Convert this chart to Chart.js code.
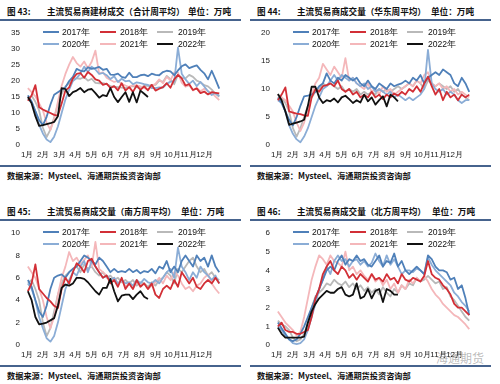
<!DOCTYPE html>
<html>
<head>
<meta charset="utf-8">
<script src="https://cdn.jsdelivr.net/npm/chart.js@4.4.1/dist/chart.umd.min.js"></script>
<style>
  body { margin: 0; width: 500px; height: 384px; overflow: hidden; position: relative; background: #fff;
         font-family: "Noto Sans CJK SC", sans-serif; }
  .panel { position: absolute; width: 250px; height: 192px; }
  .head { position: absolute; top: 5px; font-size: 8.6px; font-weight: bold; color: #111; white-space: nowrap; line-height: 12px; }
  .rule { position: absolute; left: 0; width: 241px; height: 2px; background: #46638d; }
  .src { position: absolute; left: 7px; top: 169px; font-size: 8.2px; font-weight: bold; color: #111; white-space: nowrap; line-height: 12px; }
  .lline { position: absolute; width: 16px; height: 2px; }
  .ltext { position: absolute; font-family: "Liberation Sans", Arial, sans-serif; font-size: 8.6px; color: #111; line-height: 10px; white-space: nowrap; }
  canvas { position: absolute; left: 0; top: 22px; }
  .wm { position: absolute; left: 436px; top: 349px; font-size: 12px; color: rgba(130,130,130,0.55); white-space: nowrap; }
</style>
</head>
<body>
<div class="wm">海通期货</div>
<script>
const monthLabels = ['1月', '2月', '3月', '4月', '5月', '6月', '7月', '8月', '9月', '10月', '11月', '12月']
const yearLabels = ['2017年', '2018年', '2019年', '2020年', '2021年', '2022年']
const yearColors = ['#4f80b9', '#d22f36', '#b9b9b9', '#8badd6', '#f4b7ba', '#111111']

// 合计 (weekly, 万吨)
const total17 = [15.5, 13.6, 10.6, 7.8, 6.2, 8.8, 12.6, 15.7, 16.5, 17.3, 18, 20, 21.3, 23.8, 23.2, 23, 24.3, 23.8, 24, 24.4, 23.5, 23.8, 22, 21.9, 22.3, 21.3, 21, 22.6, 21.2, 21.2, 21.8, 22, 21.5, 22.3, 21.9, 21.8, 22.8, 23.2, 23, 21.8, 23.3, 24.6, 25.2, 24, 24.5, 24.9, 23.5, 22.4, 20.5, 23.2, 20.5, 17.6]
const total18 = [13.8, 15.5, 18.7, 11.8, 11.1, 10.5, 10, 9.4, 9.2, 13, 17, 18, 20.8, 22.2, 22.5, 21, 22.8, 21.9, 20.5, 20.1, 18.8, 19.2, 17.8, 18.4, 17.1, 19.3, 17, 18.1, 16.6, 18.6, 17.2, 18.3, 17.1, 18.8, 17, 17.6, 18.1, 19.3, 17.9, 20.5, 21.9, 20.8, 18.6, 19, 17.2, 17.7, 16.2, 16.7, 15.8, 16.5, 16.3, 16.1]
const total19 = [14.8, 15.4, 13.5, 10.8, 5.4, 2.5, 4.8, 8.6, 12.7, 16, 18.3, 19.3, 20.8, 20.8, 20.7, 21.2, 20.1, 20.7, 19.4, 19.3, 19.3, 19, 18.4, 18.2, 18.1, 17.9, 17.8, 18.2, 18.4, 18.1, 17.7, 18.5, 18.5, 18.8, 18.8, 20.1, 19.7, 21.6, 20.6, 19, 22, 21, 20.8, 21.9, 21.3, 20.1, 19.6, 18.7, 18.3, 17.3, 16, 15.1]
const total20 = [14.5, 13.3, 10.5, 6.3, 3.6, 1.7, 0.9, 2.6, 5.8, 10, 14.2, 17.3, 20, 20.9, 22.3, 24.5, 22.8, 24.5, 23.6, 22.2, 22.5, 21.8, 20.6, 21.5, 19.7, 20.7, 19.9, 20.1, 19, 19.6, 19.3, 19, 18.8, 17.8, 17.8, 18, 17.9, 19.1, 19.8, 19.8, 30.4, 22.3, 20.5, 19.1, 20.1, 18.4, 19.7, 18.3, 16.8, 15.6, 16.3, 15.3]
const total21 = [17.8, 16.5, 15.2, 13, 10.8, 7, 4.7, 8, 13.5, 18.5, 22.2, 25.1, 27.5, 25.6, 24.5, 26.1, 24, 26, 29.5, 22.3, 22.7, 21, 20.3, 19.7, 20, 19.1, 18.6, 18.1, 18.7, 18.6, 18.3, 17.8, 17.3, 18.5, 19.1, 20.5, 19.3, 21.3, 20.2, 22.7, 22.6, 19.5, 18.2, 18.7, 17, 17.8, 16.8, 17.6, 16.8, 16.3, 15.1, 14]
const total22 = [15, 13, 9, 6, 6.2, 6.5, 6.8, 7.2, 9, 17.8, 17.5, 15.3, 16.5, 17, 17.8, 16.5, 17.3, 17.5, 16.2, 14.8, 15.6, 15.3, 17.8, 15, 13.4, 15, 16.5, 13.5, 16.5, 13.3, 17, 16, 15]

// 华东
const east17 = [8.5, 7.5, 6, 4.5, 3.5, 5, 7, 8.7, 8.8, 9, 9.5, 10.5, 11, 12.8, 11.5, 11, 12, 11.5, 12.5, 12, 11.5, 12, 11, 10.5, 11.5, 10.5, 10, 11, 10.5, 10, 11, 10.5, 10.8, 11, 11.5, 11, 12, 11.5, 12.5, 11, 12, 12.5, 13, 12.5, 13.5, 13, 12.5, 11, 10.5, 12, 11, 9.5]
const east18 = [8, 9, 10.3, 6, 5.8, 5.6, 5.5, 5.3, 5.2, 8.5, 10, 9.5, 10.5, 10.7, 11, 10.5, 11.5, 10, 9.5, 10, 9, 9.5, 8.5, 9, 8.5, 9.5, 8.5, 9, 8.2, 9, 8.5, 9.2, 8.8, 9.5, 9, 10, 9.5, 10.5, 9.5, 11, 12.2, 10.5, 9, 10, 8, 9.5, 8.5, 9, 8, 9, 8.5, 9]
const east19 = [8, 8.5, 7.5, 6, 3, 1.5, 3, 5, 7, 8.5, 9.5, 10, 11, 10.5, 11, 10.5, 10, 10.5, 9.5, 10, 9.5, 10, 9, 9.5, 9, 9.5, 9, 10, 9.5, 10, 9.5, 10, 10.5, 10, 10.5, 11, 10.5, 11.5, 11, 10, 11.5, 11, 10.5, 11, 10.5, 10, 10.5, 9.5, 10, 9, 8.5, 8]
const east20 = [8, 7.5, 6, 3.5, 2, 1, 0.5, 1.5, 3, 5, 7, 8.5, 10, 10.5, 11.5, 12.5, 11.5, 12.5, 12, 11.5, 12, 11, 10.5, 11, 10, 10.5, 9.5, 10, 9.5, 9, 9.5, 8.5, 9, 8.5, 8, 8.5, 8, 8.5, 9, 10, 17, 11, 10, 9.5, 10, 9, 9.5, 9, 8, 7.5, 8, 8]
const east21 = [9, 8.5, 8, 7, 6, 4, 2.5, 4, 6.5, 9, 11, 12, 14.5, 13.5, 12.5, 14, 13, 12, 15.5, 11.5, 12, 11, 10.5, 10, 11, 9.5, 10, 9, 10.5, 9.5, 10, 9, 9.5, 10, 10.5, 11, 10.5, 11.5, 11, 12.5, 13, 11, 10.5, 11, 10, 10.5, 9.5, 10, 9, 9.5, 9, 8.5]
const east22 = [9.1, 8, 6, 3.6, 3.8, 4, 4.2, 4.5, 7, 10.4, 10.4, 8.5, 7.5, 8, 7.8, 8.3, 7.6, 8.5, 8.8, 8.2, 7.5, 8, 7.6, 9, 7.8, 8.5, 7.2, 8, 8.7, 6.9, 9, 8.5, 7.8]

// 南方
const south17 = [5.8, 5.2, 4, 3, 2.5, 3.5, 5, 6, 6.2, 6.3, 6, 6.5, 6.8, 7, 7.5, 8, 7.8, 7.5, 7.2, 7.8, 7.5, 7, 6.5, 6.8, 6.5, 6.6, 6.5, 6.8, 6.5, 6.7, 6.4, 6.6, 6.5, 6.8, 6.4, 7, 6.8, 7.5, 6.5, 7, 6.5, 7.5, 8, 7.5, 7, 8, 7.5, 7.8, 7, 8, 7, 6.5]
const south18 = [4.8, 5.5, 7.2, 5, 4.6, 4.2, 3.9, 3.5, 3.3, 5, 6, 5.5, 6.5, 7.3, 7, 6.5, 7.5, 7.7, 7, 6.5, 6, 6.2, 5.5, 5.8, 5.2, 6, 5, 5.5, 5, 5.8, 5.2, 5.5, 5, 5.5, 4.5, 4.2, 5, 5.3, 5, 5.8, 5.2, 6.5, 6, 5.5, 6, 5.2, 5, 5.5, 5.8, 5.5, 6, 5.5]
const south19 = [5.5, 5.8, 5, 4, 2, 0.8, 1.5, 3, 4.5, 5.5, 6.2, 6.5, 6.8, 7, 6.5, 7.2, 6.8, 7, 6.5, 6.2, 6.5, 6, 6.2, 5.8, 6, 5.6, 5.8, 5.5, 5.8, 5.3, 5.6, 5.5, 5.2, 5.6, 5.3, 5.8, 6, 6.5, 6.2, 5.5, 6.8, 6.5, 7, 7.5, 7.8, 7, 6.5, 6.8, 6.2, 6.5, 6, 5.8]
const south20 = [5.5, 5, 4, 2.5, 1.5, 0.6, 0.3, 0.8, 2, 3.5, 5, 5.8, 6.5, 6.2, 7, 7.5, 6.5, 7.5, 7, 6.5, 6, 6.2, 5.8, 6, 5.5, 5.8, 5.5, 5.6, 5.3, 5.8, 5.5, 5.9, 5.6, 5.5, 5.8, 5.5, 6, 6.5, 6.8, 6, 8.7, 7, 6.5, 5.8, 6.5, 6, 7, 6.5, 6.2, 5.8, 6.2, 5.5]
const south21 = [7, 6.5, 6, 5, 4, 2.5, 1.5, 2.5, 4.5, 6, 7, 8.3, 7.5, 7.8, 7.2, 7.6, 8, 7, 9.2, 6.8, 6.5, 6.2, 5.8, 6, 5.5, 5.8, 5.2, 5.5, 5, 5.6, 5.3, 5.5, 5, 5.3, 5.6, 6, 5.5, 6.2, 5.8, 6.5, 6.2, 5.5, 5, 5.2, 4.8, 5.3, 5.5, 6, 6.3, 5.5, 5, 4.6]
const south22 = [4.8, 4, 2.5, 1.85, 1.9, 2, 2.2, 2.4, 3.5, 5.1, 5.4, 5.3, 5.5, 6, 6, 5.9, 5.6, 5.2, 4.8, 4.5, 5.1, 5.1, 5.9, 4.8, 3.9, 4.4, 4.5, 4.5, 4.1, 4.5, 4.8, 4.3, 4.1]

// 北方
const north17 = [1.2, 0.9, 0.6, 0.3, 0.2, 0.3, 0.6, 1, 1.5, 2, 2.5, 3, 3.5, 4, 4.2, 4, 4.5, 4.8, 4.3, 4.6, 4.5, 4.8, 4.5, 4.6, 4.3, 4.2, 4.5, 4.8, 4.2, 4.5, 4.4, 4.9, 4.2, 4.5, 4, 3.8, 4, 4.2, 4, 3.8, 4.8, 4.6, 4.2, 4, 4, 3.9, 3.5, 3.6, 3, 3.2, 2.5, 1.6]
const north18 = [1, 1.2, 0.8, 0.7, 0.7, 0.6, 0.6, 0.7, 0.8, 1.5, 2.5, 3, 3.8, 4.2, 4.5, 4, 3.8, 4.2, 4, 3.6, 3.8, 3.5, 3.8, 3.6, 3.4, 3.8, 3.5, 3.6, 3.4, 3.8, 3.5, 3.6, 3.3, 3.8, 3.5, 3.4, 3.6, 3.5, 3.4, 3.7, 4.5, 3.8, 3.6, 3.5, 3.2, 3, 2.7, 2.2, 2, 2, 1.8, 1.6]
const north19 = [1.3, 1.1, 1, 0.8, 0.4, 0.2, 0.3, 0.6, 1.2, 2, 2.6, 2.8, 3, 3.3, 3.2, 3.5, 3.3, 3.2, 3.4, 3.1, 3.3, 3, 3.2, 2.9, 3.1, 2.8, 3, 2.7, 3.1, 2.8, 2.6, 3, 2.8, 3.2, 3, 3.3, 3.2, 3.6, 3.4, 3.5, 3.7, 3.5, 3.3, 3.4, 3, 3.1, 2.6, 2.4, 2.1, 1.8, 1.5, 1.3]
const north20 = [1, 0.8, 0.5, 0.3, 0.1, 0.05, 0.1, 0.3, 0.8, 1.5, 2.2, 3, 3.5, 4.2, 3.8, 4.5, 4.8, 4.5, 4.6, 4.2, 4.5, 4.6, 4.3, 4.5, 4.2, 4.4, 4.9, 4.5, 4.2, 4.8, 4.3, 4.6, 4.2, 3.8, 4, 4, 3.9, 4.1, 4, 3.8, 4.7, 4.3, 4, 3.8, 3.6, 3.4, 3.2, 2.8, 2.6, 2.3, 2.1, 1.8]
const north21 = [1.8, 1.5, 1.2, 1, 0.8, 0.5, 0.7, 1.5, 2.5, 3.5, 4.2, 4.8, 4.6, 4.3, 4.8, 4.5, 4.4, 4.2, 5, 4, 4.2, 3.8, 4, 3.7, 3.5, 3.8, 3.4, 3.6, 3.2, 3.5, 3, 3.3, 2.8, 3.2, 3, 3.5, 3.3, 3.6, 3.4, 3.7, 3.4, 3, 2.7, 2.5, 2.2, 2, 1.8, 1.6, 1.5, 1.3, 1.1, 0.85]
const north22 = [0.93, 0.6, 0.4, 0.4, 0.4, 0.4, 0.4, 0.45, 1.2, 1.8, 2.2, 2.5, 2.7, 2.9, 2.8, 2.8, 3, 3.1, 2.7, 2.6, 2.7, 3.3, 2.5, 2.6, 3, 2.5, 2.9, 3, 2.3, 3, 2.9, 2.7, 2.7]

const panels = [
  { left: 0, top: 0, no: '图 43:', title: '主流贸易商建材成交（合计周平均）', unitLeft: 188, max: 35, step: 5, series: [total17, total18, total19, total20, total21, total22] },
  { left: 250, top: 0, no: '图 44:', title: '主流贸易商成交量（华东周平均）', unitLeft: 181, max: 20, step: 5, series: [east17, east18, east19, east20, east21, east22] },
  { left: 0, top: 200, no: '图 45:', title: '主流贸易商成交量（南方周平均）', unitLeft: 181, max: 10, step: 2, series: [south17, south18, south19, south20, south21, south22] },
  { left: 250, top: 200, no: '图 46:', title: '主流贸易商成交量（北方周平均）', unitLeft: 182, max: 6, step: 1, series: [north17, north18, north19, north20, north21, north22] }
]

// draw order: 2022 on top, then red, etc.
const drawOrder = [2, 1, 5, 3, 4, 0]
const monthTicks = monthLabels.map((m, i) => 0.8 + i * 4.3)
const legendCols = [[43, 62], [100, 120], [157, 178]]
const legendRows = [32, 44]

function el (parent, cls, style, text) {
  const d = document.createElement('div')
  d.className = cls
  Object.assign(d.style, style)
  if (text) d.textContent = text
  parent.appendChild(d)
  return d
}

for (const p of panels) {
  const box = el(document.body, 'panel', { left: p.left + 'px', top: p.top + 'px' })
  el(box, 'head', { left: '7px' }, p.no)
  el(box, 'head', { left: '47px' }, p.title)
  el(box, 'head', { left: p.unitLeft + 'px' }, '单位：万吨')
  el(box, 'rule', { top: '19px' })
  el(box, 'rule', { top: '165px' })
  el(box, 'src', {}, '数据来源：Mysteel、海通期货投资咨询部')

  const canvas = document.createElement('canvas')
  canvas.width = 240
  canvas.height = 142
  box.appendChild(canvas)

  yearLabels.forEach((y, i) => {
    const col = legendCols[i % 3]
    const row = legendRows[Math.floor(i / 3)]
    el(box, 'lline', { left: col[0] + 'px', top: (row - 1) + 'px', background: yearColors[i] })
    el(box, 'ltext', { left: col[1] + 'px', top: (row - 5) + 'px' }, y)
  })

  new Chart(canvas, { // eslint-disable-line
    type: 'line',
    data: {
      datasets: p.series.map((arr, i) => ({
        label: yearLabels[i],
        data: arr.map((v, k) => ({ x: k + 1, y: v })),
        borderColor: yearColors[i],
        borderWidth: 1.8,
        borderJoinStyle: 'round',
        pointRadius: 0,
        tension: 0,
        fill: false,
        order: drawOrder[i]
      }))
    },
    options: {
      responsive: false,
      animation: false,
      layout: { padding: { top: 11, right: 17, left: 0, bottom: 0 } },
      plugins: { legend: { display: false }, tooltip: { enabled: false } },
      scales: {
        x: {
          type: 'linear',
          min: 0.5,
          max: 53,
          grid: { display: false, drawTicks: false },
          border: { display: false },
          afterBuildTicks: (axis) => { axis.ticks = monthTicks.map(v => ({ value: v })) },
          afterFit: (axis) => { axis.height = 19 },
          ticks: {
            autoSkip: false,
            maxRotation: 0,
            padding: 5,
            color: '#1a1a1a',
            font: { family: 'Liberation Sans', size: 8 },
            callback: (v, i) => monthLabels[i]
          }
        },
        y: {
          min: 0,
          max: p.max,
          grid: { display: false, drawTicks: false },
          border: { display: false },
          afterFit: (axis) => { axis.width = 26 },
          ticks: {
            stepSize: p.step,
            padding: 6,
            color: '#1a1a1a',
            font: { family: 'Liberation Sans', size: 8 }
          }
        }
      }
    }
  })
}
</script>
</body>
</html>
